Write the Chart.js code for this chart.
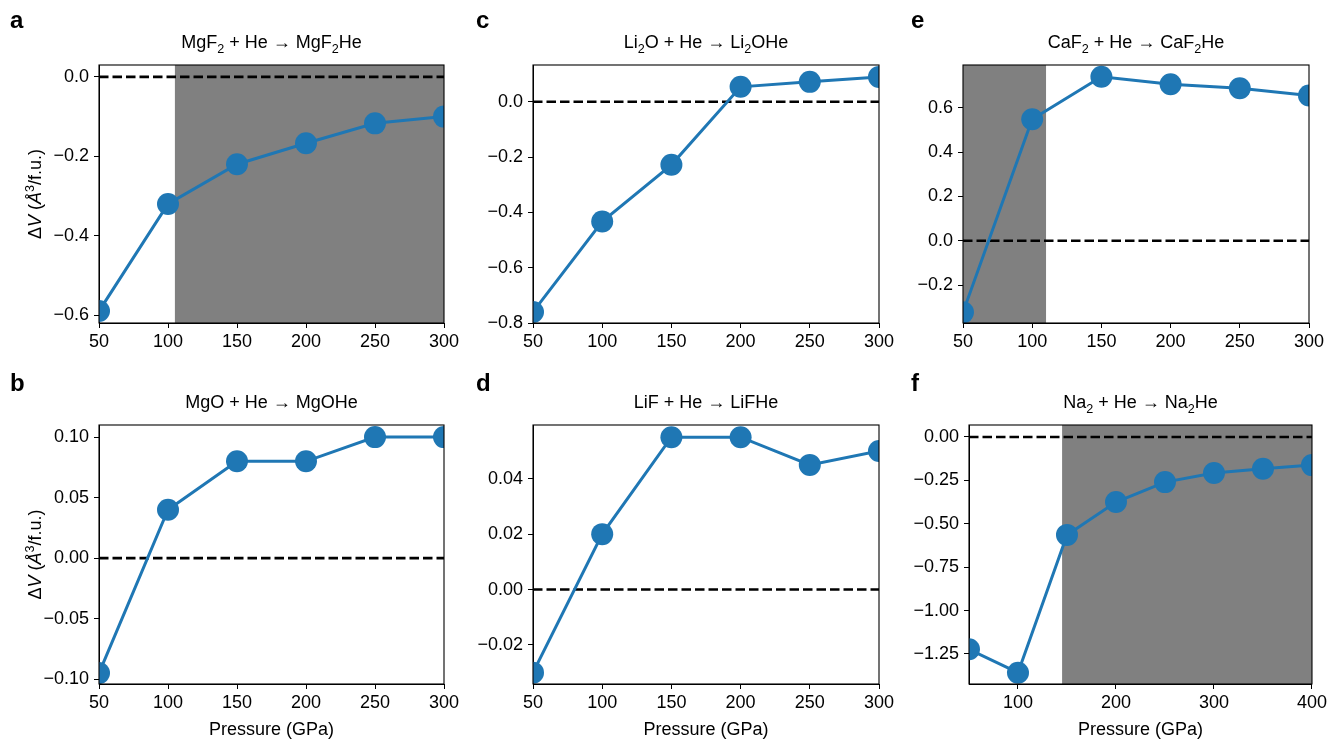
<!DOCTYPE html>
<html>
<head>
<meta charset="utf-8">
<script src="https://cdn.jsdelivr.net/npm/chart.js@4.4.1/dist/chart.umd.min.js"></script>
<style>
  html, body { margin: 0; padding: 0; background: #fff; }
  #wrap { position: relative; width: 1330px; height: 740px; }
  #wrap canvas { position: absolute; left: 0; top: 0; }
</style>
</head>
<body>
<div id="wrap"></div>
<script>
// pressures (GPa)
const pressure = [50, 100, 150, 200, 250, 300];
const pressureNa = [50, 100, 150, 200, 250, 300, 350, 400];

// volume change dV (A^3 / f.u.)
const dvMgF2 = [-0.59, -0.32, -0.22, -0.167, -0.117, -0.10];
const dvMgO  = [-0.095, 0.04, 0.08, 0.08, 0.10, 0.10];
const dvLi2O = [-0.76, -0.433, -0.228, 0.054, 0.072, 0.09];
const dvLiF  = [-0.03, 0.02, 0.055, 0.055, 0.045, 0.05];
const dvCaF2 = [-0.323, 0.548, 0.74, 0.706, 0.688, 0.655];
const dvNa2  = [-1.223, -1.358, -0.564, -0.375, -0.26, -0.208, -0.183, -0.162];

// tick values and labels
const xTicks = [50, 100, 150, 200, 250, 300];
const xTicksNa = [100, 200, 300, 400];
const yTicksA = [-0.6, -0.4, -0.2, 0.0];
const yLabelsA = ['\u22120.6', '\u22120.4', '\u22120.2', '0.0'];
const yTicksB = [-0.10, -0.05, 0.0, 0.05, 0.10];
const yLabelsB = ['\u22120.10', '\u22120.05', '0.00', '0.05', '0.10'];
const yTicksC = [-0.8, -0.6, -0.4, -0.2, 0.0];
const yLabelsC = ['\u22120.8', '\u22120.6', '\u22120.4', '\u22120.2', '0.0'];
const yTicksD = [-0.02, 0.0, 0.02, 0.04];
const yLabelsD = ['\u22120.02', '0.00', '0.02', '0.04'];
const yTicksE = [-0.2, 0.0, 0.2, 0.4, 0.6];
const yLabelsE = ['\u22120.2', '0.0', '0.2', '0.4', '0.6'];
const yTicksF = [-1.25, -1.0, -0.75, -0.5, -0.25, 0.0];
const yLabelsF = ['\u22121.25', '\u22121.00', '\u22120.75', '\u22120.50', '\u22120.25', '0.00'];

const FAMILY = '"Liberation Sans", Arial, Helvetica, sans-serif';
const FS = 18;
const BLUE = '#1f77b4';
Chart.defaults.font.family = FAMILY;
Chart.defaults.font.size = FS;
Chart.defaults.color = '#000';

// "_x" subscript, "^x" superscript, "*" toggles italic
function parseRich(str) {
  const segs = [];
  let italic = false;
  for (let i = 0; i < str.length; i++) {
    const c = str[i];
    if (c === '*') { italic = !italic; continue; }
    if (c === '_' || c === '^') { segs.push({ t: str[i + 1], mode: c, italic }); i++; continue; }
    const last = segs[segs.length - 1];
    if (last && last.mode === '' && last.italic === italic) last.t += c;
    else segs.push({ t: c, mode: '', italic });
  }
  return segs;
}

function drawRich(ctx, str, x, y, size) {
  const segs = parseRich(str);
  const fontOf = s => (s.italic ? 'italic ' : '') + (s.mode ? size * 0.7 : size) + 'px ' + FAMILY;
  let total = 0;
  segs.forEach(s => { ctx.font = fontOf(s); s.w = ctx.measureText(s.t).width; total += s.w; });
  let cx = x - total / 2;
  ctx.textAlign = 'left';
  ctx.textBaseline = 'alphabetic';
  segs.forEach(s => {
    ctx.font = fontOf(s);
    const dy = s.mode === '_' ? size * 0.25 : (s.mode === '^' ? -size * 0.4 : 0);
    ctx.fillText(s.t, cx, y + dy);
    cx += s.w;
  });
}

const panels = [
  { letter: 'a', title: 'MgF_2 + He \u2192 MgF_2He', x: pressure, y: dvMgF2,
    xMin: 50, xMax: 300, yMin: -0.62, yMax: 0.03, xt: xTicks, yt: yTicksA, yl: yLabelsA,
    shade: [105, 300], box: [99, 65, 444, 323], letterPos: [10, 28], ylabel: true, xlabel: false },
  { letter: 'c', title: 'Li_2O + He \u2192 Li_2OHe', x: pressure, y: dvLi2O,
    xMin: 50, xMax: 300, yMin: -0.8, yMax: 0.133, xt: xTicks, yt: yTicksC, yl: yLabelsC,
    shade: null, box: [533, 65, 879, 323], letterPos: [476, 28], ylabel: false, xlabel: false },
  { letter: 'e', title: 'CaF_2 + He \u2192 CaF_2He', x: pressure, y: dvCaF2,
    xMin: 50, xMax: 300, yMin: -0.371, yMax: 0.793, xt: xTicks, yt: yTicksE, yl: yLabelsE,
    shade: [50, 110], box: [963, 65, 1309, 323], letterPos: [911, 28], ylabel: false, xlabel: false },
  { letter: 'b', title: 'MgO + He \u2192 MgOHe', x: pressure, y: dvMgO,
    xMin: 50, xMax: 300, yMin: -0.104, yMax: 0.110, xt: xTicks, yt: yTicksB, yl: yLabelsB,
    shade: null, box: [99, 425, 444, 684], letterPos: [10, 391], ylabel: true, xlabel: true },
  { letter: 'd', title: 'LiF + He \u2192 LiFHe', x: pressure, y: dvLiF,
    xMin: 50, xMax: 300, yMin: -0.0341, yMax: 0.0594, xt: xTicks, yt: yTicksD, yl: yLabelsD,
    shade: null, box: [533, 425, 879, 684], letterPos: [476, 391], ylabel: false, xlabel: true },
  { letter: 'f', title: 'Na_2 + He \u2192 Na_2He', x: pressureNa, y: dvNa2,
    xMin: 50, xMax: 400, yMin: -1.423, yMax: 0.069, xt: xTicksNa, yt: yTicksF, yl: yLabelsF,
    shade: [145, 400], box: [969, 425, 1314, 684], letterPos: [911, 391], ylabel: false, xlabel: true }
];

const W = 1330, H = 740;
const wrap = document.getElementById('wrap');

panels.forEach(p => {
  const cv = document.createElement('canvas');
  cv.width = W; cv.height = H;
  cv.style.width = W + 'px'; cv.style.height = H + 'px';
  wrap.appendChild(cv);
  const [L, T, R, B] = p.box;

  const deco = {
    id: 'deco',
    beforeDatasetsDraw(chart) {
      if (!p.shade) return;
      const ctx = chart.ctx, xs = chart.scales.x, a = chart.chartArea;
      const x0 = xs.getPixelForValue(p.shade[0]), x1 = xs.getPixelForValue(p.shade[1]);
      ctx.save();
      ctx.fillStyle = '#808080';
      ctx.fillRect(x0, a.top, x1 - x0, a.bottom - a.top);
      ctx.restore();
    },
    afterDraw(chart) {
      const ctx = chart.ctx, a = chart.chartArea;
      ctx.save();
      ctx.strokeStyle = '#000';
      ctx.lineWidth = 1.1;
      ctx.strokeRect(a.left, a.top, a.right - a.left, a.bottom - a.top);
      ctx.fillStyle = '#000';
      ctx.font = 'bold 24px ' + FAMILY;
      ctx.textAlign = 'left';
      ctx.textBaseline = 'alphabetic';
      ctx.fillText(p.letter, p.letterPos[0], p.letterPos[1]);
      const cx = (a.left + a.right) / 2;
      drawRich(ctx, p.title, cx, a.top - 17, FS);
      if (p.xlabel) drawRich(ctx, 'Pressure (GPa)', cx, 735, FS);
      if (p.ylabel) {
        ctx.save();
        ctx.translate(41, (a.top + a.bottom) / 2);
        ctx.rotate(-Math.PI / 2);
        drawRich(ctx, '\u0394*V* (*\u00c5*^3/f.u.)', 0, 0, FS);
        ctx.restore();
      }
      ctx.restore();
    }
  };

  new Chart(cv, {
    type: 'line',
    data: {
      datasets: [
        {
          data: p.x.map((v, i) => ({ x: v, y: p.y[i] })),
          borderColor: BLUE, backgroundColor: BLUE,
          borderWidth: 3, pointRadius: 11, pointHoverRadius: 11,
          pointBorderWidth: 0, pointBackgroundColor: BLUE,
          tension: 0, clip: 0
        },
        {
          data: [{ x: p.xMin, y: 0 }, { x: p.xMax, y: 0 }],
          borderColor: '#000', borderWidth: 2.6, borderDash: [9.5, 4],
          pointRadius: 0, tension: 0, clip: 0
        }
      ]
    },
    options: {
      responsive: false,
      animation: false,
      events: [],
      layout: { padding: { left: 0, top: T, right: W - R, bottom: 0 } },
      plugins: { legend: { display: false }, tooltip: { enabled: false }, title: { display: false } },
      scales: {
        x: {
          type: 'linear', min: p.xMin, max: p.xMax,
          afterBuildTicks: s => { s.ticks = p.xt.map(v => ({ value: v })); },
          afterFit: s => { s.height = H - B; },
          ticks: { autoSkip: false, maxRotation: 0, padding: 3, color: '#000',
                   callback: v => String(v) },
          grid: { drawOnChartArea: false, drawTicks: true, tickLength: 5, tickWidth: 1, tickColor: '#000' },
          border: { display: true, color: '#000', width: 1 }
        },
        y: {
          type: 'linear', min: p.yMin, max: p.yMax,
          afterBuildTicks: s => { s.ticks = p.yt.map(v => ({ value: v })); },
          afterFit: s => { s.width = L; },
          ticks: { autoSkip: false, padding: 5, color: '#000',
                   callback: (v, i) => p.yl[i] },
          grid: { drawOnChartArea: false, drawTicks: true, tickLength: 5, tickWidth: 1, tickColor: '#000' },
          border: { display: true, color: '#000', width: 1 }
        }
      }
    },
    plugins: [deco]
  });
});
</script>
</body>
</html>
